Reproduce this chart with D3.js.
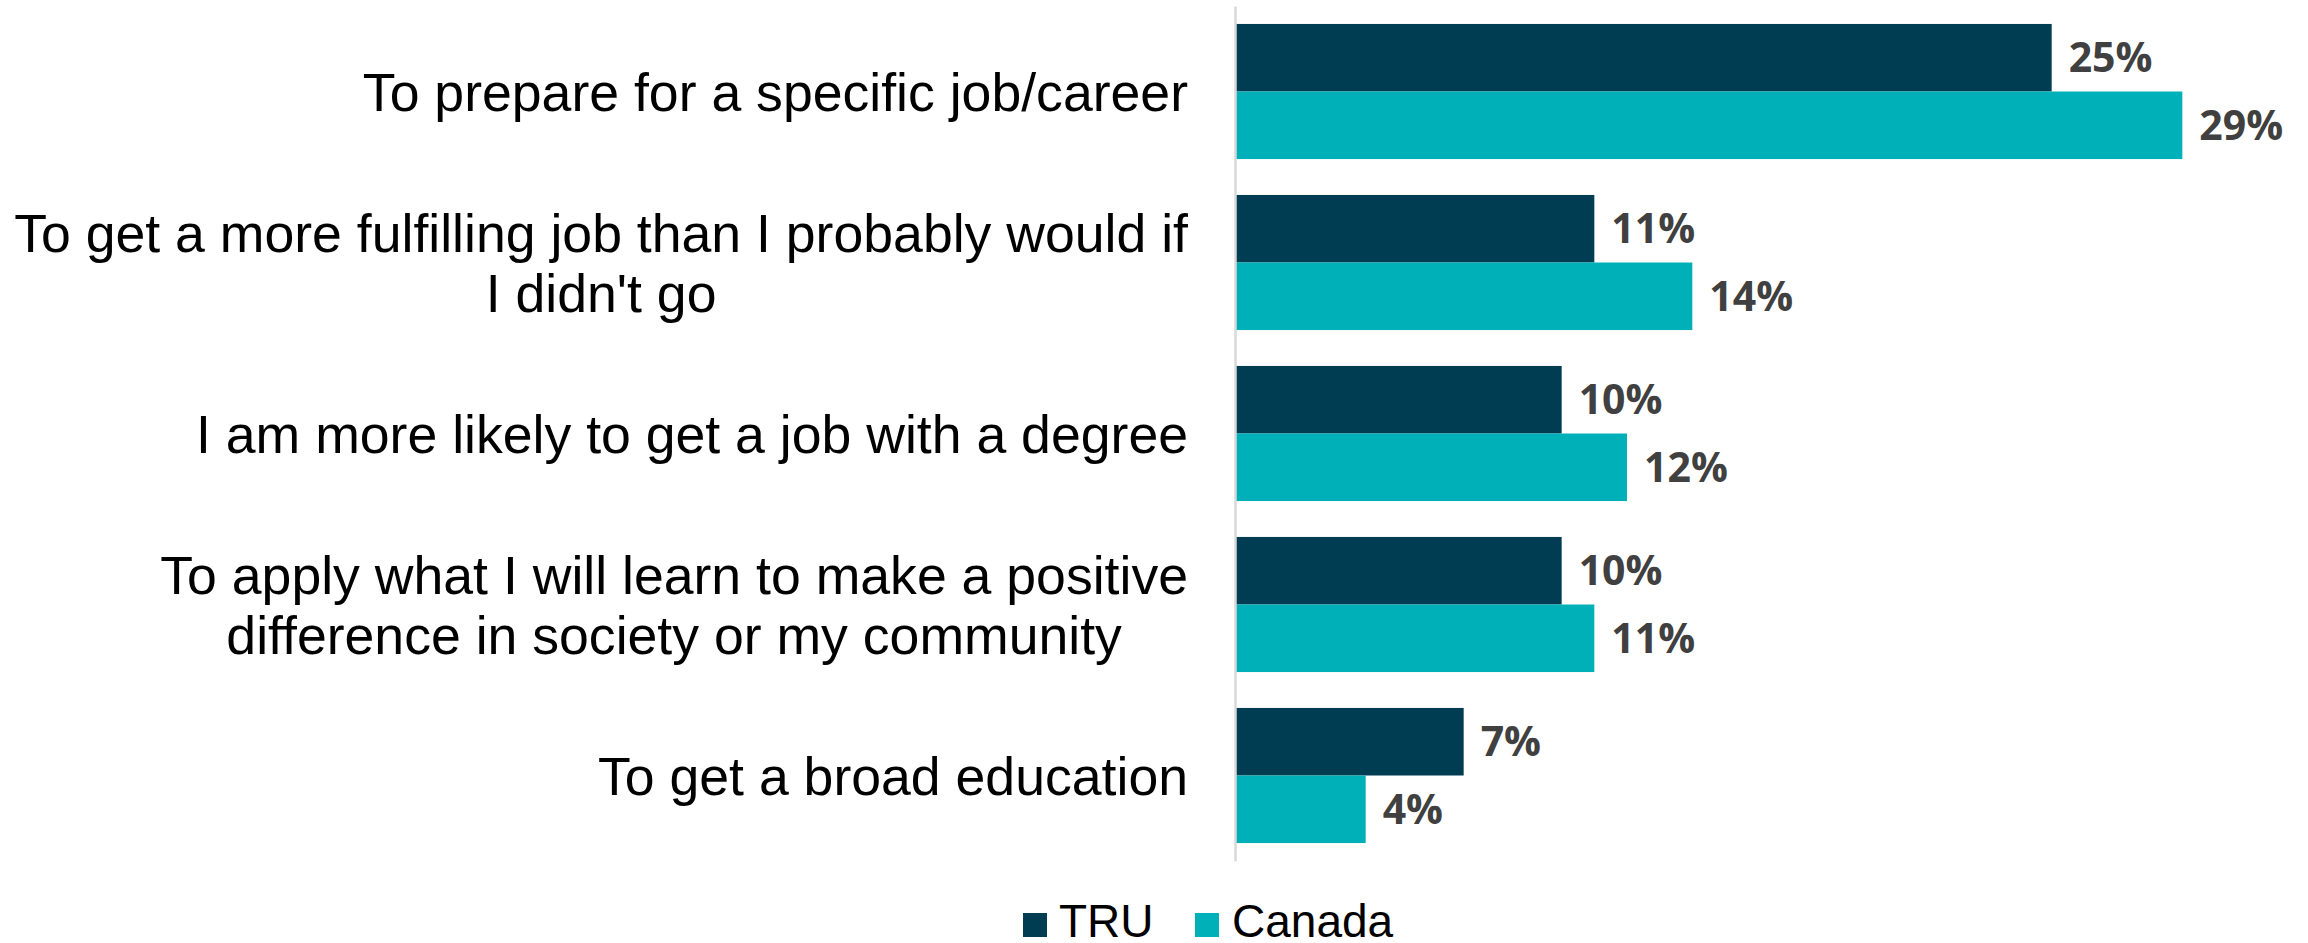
<!DOCTYPE html>
<html>
<head>
<meta charset="utf-8">
<script src="https://cdn.jsdelivr.net/npm/d3@7"></script>
<style>
  html, body { margin: 0; padding: 0; background: #ffffff; }
  svg { display: block; }
</style>
</head>
<body>
<svg id="chart" width="2308" height="943"></svg>
<script>
// ---- Data ----
const categories = [
  "To prepare for a specific job/career",
  "To get a more fulfilling job than I probably would if I didn't go",
  "I am more likely to get a job with a degree",
  "To apply what I will learn to make a positive difference in society or my community",
  "To get a broad education"
];
const categoryLines = [
  ["To prepare for a specific job/career"],
  ["To get a more fulfilling job than I probably would if", "I didn't go"],
  ["I am more likely to get a job with a degree"],
  ["To apply what I will learn to make a positive", "difference in society or my community"],
  ["To get a broad education"]
];
const seriesNames = ["TRU", "Canada"];
const truValues = [25, 11, 10, 10, 7];
const canadaValues = [29, 14, 12, 11, 4];
const seriesColors = ["#013D52", "#00B0B9"];

// ---- Layout ----
const svg = d3.select("#chart");
const axisX = 1235;
const x = d3.scaleLinear().domain([0, 30]).range([axisX, axisX + 980]);
const y = d3.scaleBand().domain(categories).range([6, 861]).paddingInner(0.21).paddingOuter(0.105);
const ySub = d3.scaleBand().domain(seriesNames).range([0, y.bandwidth()]).padding(0);
const color = d3.scaleOrdinal().domain(seriesNames).range(seriesColors);

const rows = categories.map((c, i) => ({
  cat: c,
  lines: categoryLines[i],
  values: [
    { s: "TRU", v: truValues[i] },
    { s: "Canada", v: canadaValues[i] }
  ]
}));

// Bars
const g = svg.append("g");
const groups = g.selectAll("g.cat").data(rows).join("g")
  .attr("class", "cat")
  .attr("transform", d => `translate(0,${y(d.cat)})`);

groups.selectAll("rect").data(d => d.values).join("rect")
  .attr("x", x(0))
  .attr("y", d => ySub(d.s))
  .attr("width", d => x(d.v) - x(0))
  .attr("height", ySub.bandwidth())
  .attr("fill", d => color(d.s));

// Value labels
groups.selectAll("text.val").data(d => d.values).join("text")
  .attr("class", "val")
  .attr("x", d => x(d.v) + 17)
  .attr("y", d => ySub(d.s) + ySub.bandwidth() / 2)
  .attr("dy", "0.36em")
  .attr("font-family", "'Open Sans', sans-serif")
  .attr("font-weight", 700)
  .attr("font-size", 41)
  .attr("fill", "#404040")
  .text(d => d.v + "%");

// Axis line (category axis)
const yAxis = d3.axisLeft(y).tickSize(0).tickFormat("");
const axG = svg.append("g").attr("transform", `translate(${axisX},0)`).call(yAxis);
axG.select(".domain").attr("stroke", "#D9D9D9").attr("stroke-width", 2.5);

// Category labels (right-aligned block, lines centered)
const labelRight = 1188;
const lineH = 60;
rows.forEach(r => {
  const cy = y(r.cat) + y.bandwidth() / 2;
  const tg = svg.append("g");
  const n = r.lines.length;
  const texts = r.lines.map((ln, k) => tg.append("text")
    .attr("font-family", "'Liberation Sans', Arial, sans-serif")
    .attr("font-size", 53.6)
    .attr("fill", "#000000")
    .attr("text-anchor", "middle")
    .attr("y", cy + (k - (n - 1) / 2) * lineH)
    .attr("dy", "0.36em")
    .text(ln));
  const maxW = d3.max(texts, t => t.node().getComputedTextLength());
  texts.forEach(t => t.attr("x", labelRight - maxW / 2));
});

// Legend
const legendItems = [
  { s: "TRU", sx: 1023, tx: 1059 },
  { s: "Canada", sx: 1195, tx: 1232 }
];
const lg = svg.append("g");
legendItems.forEach(it => {
  lg.append("rect")
    .attr("x", it.sx).attr("y", 913)
    .attr("width", 24).attr("height", 24)
    .attr("fill", color(it.s));
  lg.append("text")
    .attr("x", it.tx).attr("y", 937)
    .attr("font-family", "'Liberation Sans', Arial, sans-serif")
    .attr("font-size", 46)
    .attr("fill", "#000000")
    .text(it.s);
});
</script>
</body>
</html>
